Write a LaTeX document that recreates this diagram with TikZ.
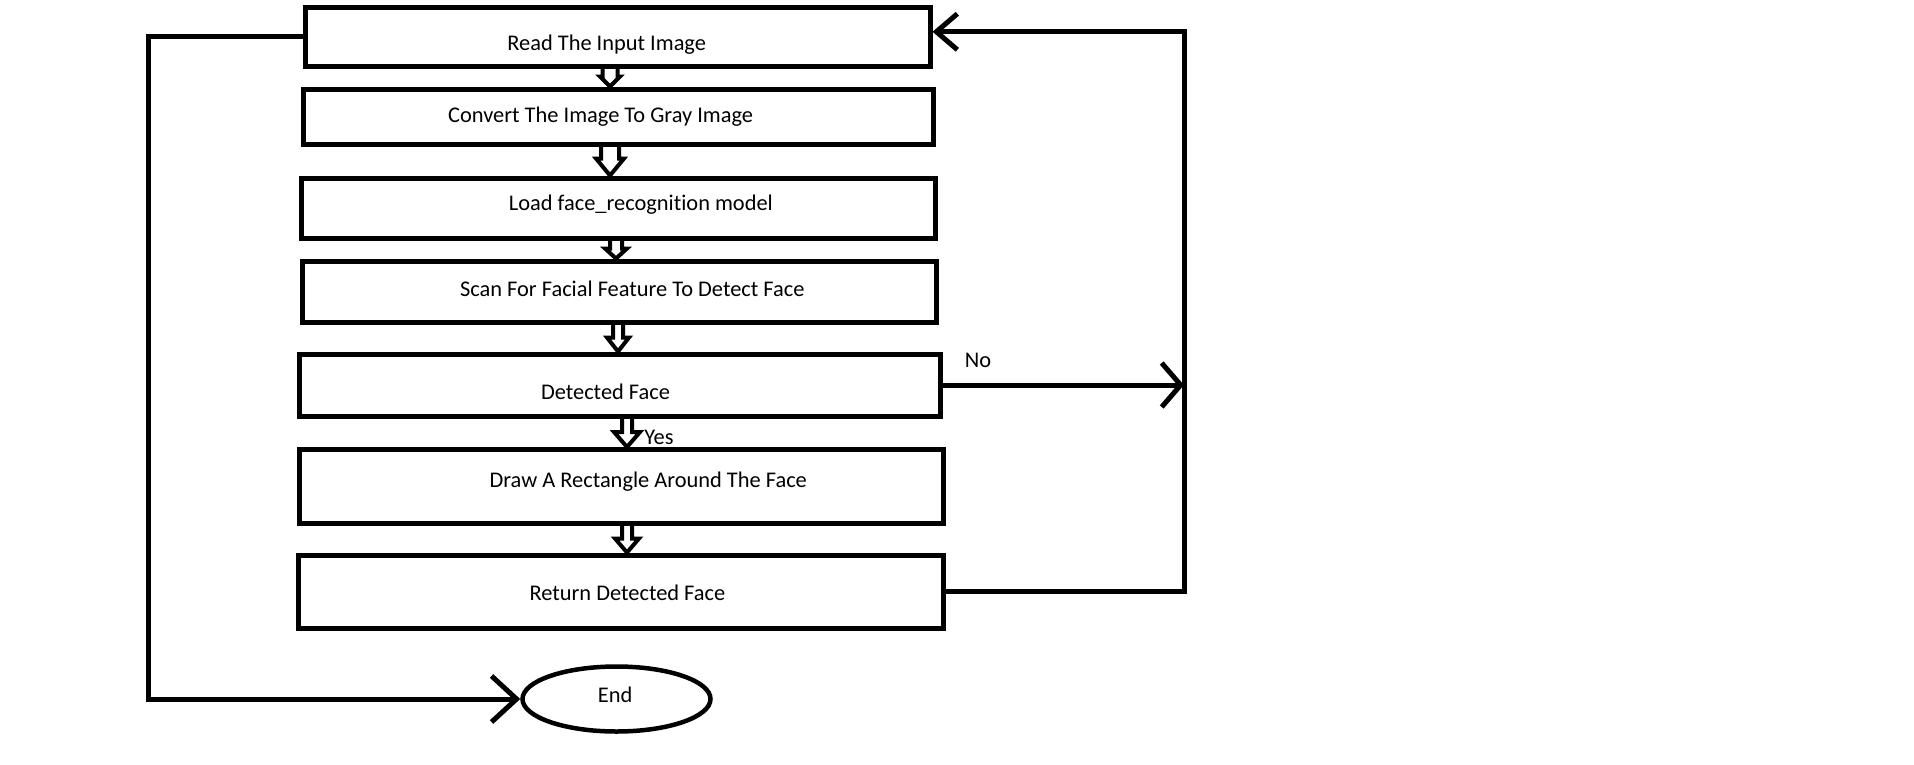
\documentclass[tikz,border=0pt]{standalone}
\usepackage{fontspec}
\setmainfont{Carlito}[Ligatures=NoCommon]
\usetikzlibrary{arrows.meta,calc,shapes.geometric}
\newcommand\hollowdown[6]{% from, to, x, shaft half, head half, head length
  \draw[hol] let \p1=(#1.south), \p2=(#2.north) in
    (#3pt-#4pt,\y1) -- (#3pt-#4pt,\y2+#6pt) -- (#3pt-#5pt,\y2+#6pt) -- (#3pt,\y2)
    -- (#3pt+#5pt,\y2+#6pt) -- (#3pt+#4pt,\y2+#6pt) -- (#3pt+#4pt,\y1);}
\begin{document}
\begin{tikzpicture}[x=1pt,y=-1pt,
  box/.style={draw,line width=5pt,inner sep=0pt,anchor=center},
  endshape/.style={draw,ellipse,line width=4.5pt,inner sep=0pt,anchor=center,
    minimum width=188pt,minimum height=65pt},
  lbl/.style={font=\fontsize{22.4}{26}\selectfont,anchor=base,inner sep=0pt},
  conn/.style={line width=5pt,line join=miter},
  hol/.style={line width=4pt,line join=miter},
  barbA/.style={-{Straight Barb[length=21pt,width=36pt]}},
  barbB/.style={-{Straight Barb[length=19pt,width=44pt]}},
  barbC/.style={-{Straight Barb[length=25pt,width=46pt]}}]
\useasboundingbox (0,0) rectangle (1914,764);
% boxes
\node[box,minimum width=625pt,minimum height=59.5pt] (b1) at (617.5,36.75) {};
\node[box,minimum width=630pt,minimum height=55pt]   (b2) at (618,116.5) {};
\node[box,minimum width=634pt,minimum height=60pt]   (b3) at (618,208) {};
\node[box,minimum width=634pt,minimum height=61pt]   (b4) at (619,291.5) {};
\node[box,minimum width=641.5pt,minimum height=62pt] (b5) at (619.75,385) {};
\node[box,minimum width=644pt,minimum height=73.5pt] (b6) at (621,486.25) {};
\node[box,minimum width=645pt,minimum height=73pt]   (b7) at (620.5,591.5) {};
\node[endshape] (end) at (616.5,699) {};
% texts
\node[lbl] (t1) at (606.7,50.2) {Read The Input Image};
\node[lbl] (t2) at (600.6,122.2) {Convert The Image To Gray Image};
\node[lbl] (t3) at (640.9,210.1) {Load face\_recognition model};
\node[lbl] (t4) at (632.3,296.7) {Scan For Facial Feature To Detect Face};
\node[lbl] (t5) at (605.5,399.3) {Detected Face};
\node[lbl] (t6) at (648.2,487.2) {Draw A Rectangle Around The Face};
\node[lbl] (t7) at (627.4,600.7) {Return Detected Face};
\node[lbl] (tend) at (615.2,702) {End};
\node[lbl] (tno) at (978,367) {No};
\node[lbl] (tyes) at (659,444) {Yes};
% hollow arrows
\hollowdown{b1}{b2}{610}{7.5}{10}{10}
\hollowdown{b2}{b3}{610}{9}{14}{17}
\hollowdown{b3}{b4}{616}{6}{11}{10}
\hollowdown{b4}{b5}{618}{5}{11}{14}
\hollowdown{b5}{b6}{627}{5}{13}{15}
\hollowdown{b6}{b7}{627}{5}{12}{14}
% connectors
\coordinate (lx) at (148,0);
\coordinate (rx) at (1184,0);
\coordinate (rin) at ($(b1.east)+(0,-5)$);
\draw[conn,barbC] (b1.west) -- (b1.west -| lx) -- (lx |- end.west) -- (end.west);
\draw[conn,barbA] (b7.east) -- (b7.east -| rx) -- (rx |- rin) -- (rin);
\draw[conn,barbB] (b5.east) -- (b5.east -| rx);
\end{tikzpicture}
\end{document}
